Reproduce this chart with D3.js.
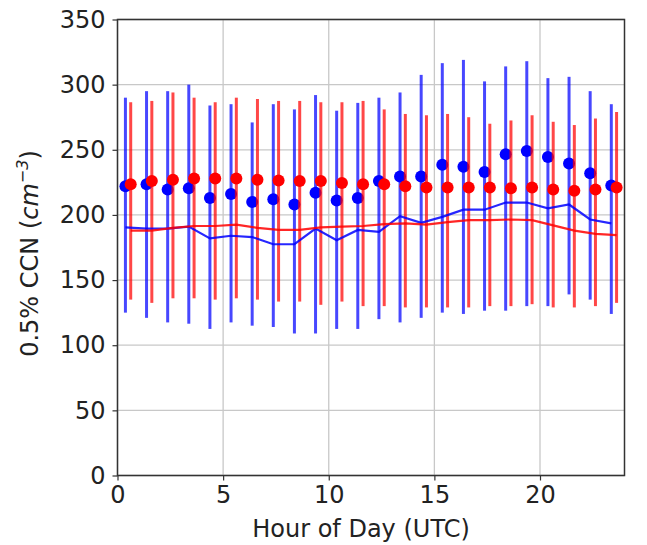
<!DOCTYPE html>
<html>
<head>
<meta charset="utf-8">
<script src="https://cdn.jsdelivr.net/npm/d3@7"></script>
<style>
  body { margin: 0; background: #fff; }
  text { font-family: "DejaVu Sans", sans-serif; fill: #222; }
</style>
</head>
<body>
<div id="chart"></div>
<script>
// hourly values, 0..23 UTC
const hours = d3.range(24);
const blueMean = [222, 223.5, 219.5, 220.5, 213, 216, 210, 212, 208, 217, 211, 213,
  226, 229.5, 229.5, 238.5, 237, 233, 246.5, 249, 244.5, 239.5, 232, 222.5];
const blueHigh = [290, 295, 295, 300, 284, 285, 271, 285, 281, 292, 280, 286,
  290, 294, 307.5, 316.5, 319, 302.5, 314, 318, 305, 306, 295, 285];
const blueLow = [125, 121, 117.5, 116.5, 112.5, 117.5, 115, 114, 109, 109, 112.5, 112.5,
  120, 117.5, 121, 125, 124, 126.5, 126.5, 130, 130, 139, 135, 124];
const blueLine = [190.5, 189.5, 189.5, 191, 182, 184, 183, 177.5, 177.5, 189.5, 180.5, 188.5,
  187, 199, 194, 198.5, 204, 204, 209.5, 209.5, 205, 208, 196.5, 193.5];

const redMean = [223.5, 226, 227, 228, 228, 228, 227, 226.5, 226, 226, 224.5, 223.5,
  223.5, 222, 221, 221, 221, 221, 220.5, 221, 219.5, 218.5, 219.5, 221];
const redHigh = [286.5, 287.5, 294, 290, 286.5, 290, 289, 287.5, 287.5, 286.5, 286.5, 287.5,
  281, 277.5, 276.5, 277.5, 275, 270, 272.5, 276.5, 271.5, 269, 274, 279];
const redLow = [135, 132.5, 136, 136, 135, 136, 135, 133.5, 133.5, 131, 133.5, 130,
  130, 129, 129, 129, 129, 130, 130, 131.5, 129, 129, 130, 132.5];
const redLine = [188, 188, 190, 191.5, 191.5, 192.5, 190, 188.5, 188.5, 190.5, 191, 191.5,
  193, 193.5, 192.5, 194.5, 196, 196, 196.5, 196, 192, 188, 185.5, 184.5];

const xTicks = [0, 5, 10, 15, 20];
const yTicks = [0, 50, 100, 150, 200, 250, 300, 350];

const W = 647, H = 545;
const margin = { left: 117.5, right: 22.5, top: 19.5, bottom: 69.5 };
const w = W - margin.left - margin.right;
const h = H - margin.top - margin.bottom;

const svg = d3.select("#chart").append("svg")
  .attr("width", W).attr("height", H);
const g = svg.append("g")
  .attr("transform", `translate(${margin.left},${margin.top})`);

const x = d3.scaleLinear().domain([0, 24]).range([0, w]);
const y = d3.scaleLinear().domain([0, 350]).range([h, 0]);

// grid
g.append("g").selectAll("line").data(xTicks).join("line")
  .attr("x1", d => x(d)).attr("x2", d => x(d))
  .attr("y1", 0).attr("y2", h)
  .attr("stroke", "#c8c8c8").attr("stroke-width", 1.3);
g.append("g").selectAll("line").data(yTicks).join("line")
  .attr("x1", 0).attr("x2", w)
  .attr("y1", d => y(d)).attr("y2", d => y(d))
  .attr("stroke", "#c8c8c8").attr("stroke-width", 1.3);

function drawSeries(color, offset, mean, high, low) {
  const s = g.append("g");
  s.selectAll("line").data(hours).join("line")
    .attr("x1", d => x(d + offset)).attr("x2", d => x(d + offset))
    .attr("y1", d => y(high[d])).attr("y2", d => y(low[d]))
    .attr("stroke", color).attr("stroke-width", 3).attr("stroke-opacity", 0.72);
  s.selectAll("circle").data(hours).join("circle")
    .attr("cx", d => x(d + offset)).attr("cy", d => y(mean[d]))
    .attr("r", 6).attr("fill", color);
}

drawSeries("blue", 0.375, blueMean, blueHigh, blueLow);
drawSeries("red", 0.625, redMean, redHigh, redLow);

function drawLine(color, offset, vals) {
  const line = d3.line().x((d, i) => x(hours[i] + offset)).y(d => y(d));
  g.append("path").datum(vals)
    .attr("d", line).attr("fill", "none")
    .attr("stroke", color).attr("stroke-width", 2.2).attr("stroke-opacity", 0.85);
}
drawLine("blue", 0.375, blueLine);
drawLine("red", 0.625, redLine);

// axes
const xAxis = d3.axisBottom(x).tickValues(xTicks).tickSize(5).tickPadding(5);
const yAxis = d3.axisLeft(y).tickValues(yTicks).tickSize(5).tickPadding(7);
const gx = g.append("g").attr("transform", `translate(0,${h})`).call(xAxis);
const gy = g.append("g").call(yAxis);
[gx, gy].forEach(a => {
  a.select(".domain").remove();
  a.selectAll(".tick line").attr("stroke", "#333").attr("stroke-width", 1.2);
  a.selectAll("text").style("font-size", "24px").attr("fill", "#222");
});

// frame
g.append("rect").attr("width", w).attr("height", h)
  .attr("fill", "none").attr("stroke", "#333").attr("stroke-width", 1.5);

// labels
svg.append("text")
  .attr("x", margin.left + w / 2 - 10).attr("y", 537)
  .attr("text-anchor", "middle").style("font-size", "24px")
  .text("Hour of Day (UTC)");

const yl = svg.append("text")
  .attr("transform", `translate(38,${margin.top + h / 2 + 6}) rotate(-90)`)
  .attr("text-anchor", "middle").style("font-size", "24px");
yl.append("tspan").text("0.5% CCN (");
yl.append("tspan").style("font-style", "italic").text("cm");
yl.append("tspan").attr("dy", -10).style("font-size", "16px").style("font-style", "italic").text("−3");
yl.append("tspan").attr("dy", 10).text(")");
</script>
</body>
</html>
